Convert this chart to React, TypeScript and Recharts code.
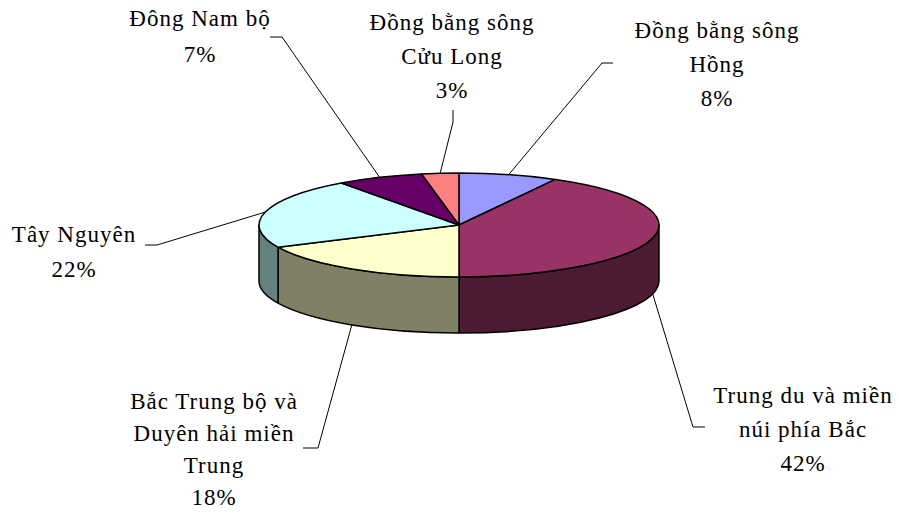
import React from 'react'
import { Cell, Pie, PieChart } from 'recharts'

const NAMES = [
    'Đồng bằng sông\nHồng',
    'Trung du và miền\nnúi phía Bắc',
    'Bắc Trung bộ và\nDuyên hải miền\nTrung',
    'Tây Nguyên',
    'Đông Nam bộ',
    'Đồng bằng sông\nCửu Long',
]
const VALUES = [8, 42, 18, 22, 7, 3]
const COLORS = ['#9999FF', '#993366', '#FFFFCC', '#CCFFFF', '#660066', '#FF8080']

// where each label sits: text centre / first baseline, line gap, then the bend of the leader line
const LABEL_LAYOUT = [
    { x: 717, y: 38, gap: 34, elbow: [602, 63], tick: [613, 63] },
    { x: 803, y: 403, gap: 34, elbow: [693, 427], tick: [705, 427] },
    { x: 214, y: 409, gap: 32, elbow: [318, 448], tick: [303, 448] },
    { x: 74, y: 242, gap: 35, elbow: [157, 245], tick: [145, 245] },
    { x: 200, y: 26, gap: 36, elbow: [282, 37], tick: [270, 37] },
    { x: 452, y: 30, gap: 34, elbow: [453, 122], tick: [453, 110] },
]

const data = NAMES.map((name, i) => ({ name, value: VALUES[i] }))

const RAD = Math.PI / 180
const TILT = 0.26
const DEPTH = 56
const FONT = "'Liberation Serif', 'Times New Roman', Times, serif"

const ellipsePt = (cx: number, cy: number, rx: number, a: number, dy = 0) => ({
    x: cx + rx * Math.cos(a * RAD),
    y: cy - rx * TILT * Math.sin(a * RAD) + dy,
})

const darken = (hex: string, k: number) => {
    const n = parseInt(hex.slice(1), 16)
    const r = Math.round(((n >> 16) & 255) * k)
    const g = Math.round(((n >> 8) & 255) * k)
    const b = Math.round((n & 255) * k)
    return `rgb(${r},${g},${b})`
}

const TopSlice = (props: any) => {
    const { cx, cy, outerRadius, startAngle, endAngle, fill } = props
    const rx = outerRadius
    const ry = rx * TILT
    const p1 = ellipsePt(cx, cy, rx, startAngle)
    const p2 = ellipsePt(cx, cy, rx, endAngle)
    const large = Math.abs(startAngle - endAngle) > 180 ? 1 : 0
    const sweep = startAngle > endAngle ? 1 : 0
    const d = `M${cx},${cy} L${p1.x},${p1.y} A${rx},${ry} 0 ${large} ${sweep} ${p2.x},${p2.y} Z`
    return <path d={d} fill={fill} stroke="#000" strokeWidth={1.5} strokeLinejoin="round" />
}

const SideSlice = (props: any) => {
    const { cx, cy, outerRadius, startAngle, endAngle, fill } = props
    const rx = outerRadius
    const ry = rx * TILT
    const hi = Math.min(Math.max(startAngle, endAngle), 0)
    const lo = Math.max(Math.min(startAngle, endAngle), -180)
    if (hi <= lo) return <g />
    const a = ellipsePt(cx, cy, rx, hi)
    const b = ellipsePt(cx, cy, rx, lo)
    const d =
        `M${a.x},${a.y} A${rx},${ry} 0 0 1 ${b.x},${b.y} ` +
        `L${b.x},${b.y + DEPTH} A${rx},${ry} 0 0 0 ${a.x},${a.y + DEPTH} Z`
    return <path d={d} fill={darken(fill, 0.5)} stroke="#000" strokeWidth={1.5} strokeLinejoin="round" />
}

const renderLabel = (props: any) => {
    const { cx, cy, outerRadius, midAngle, percent, index } = props
    const L = LABEL_LAYOUT[index]
    const front = Math.sin(midAngle * RAD) < 0
    const p = ellipsePt(cx, cy, outerRadius, midAngle, front ? DEPTH : 0)
    const lines = [...NAMES[index].split('\n'), `${Math.round(percent * 100)}%`]
    return (
        <g>
            <polyline
                points={`${p.x},${p.y} ${L.elbow[0]},${L.elbow[1]} ${L.tick[0]},${L.tick[1]}`}
                fill="none"
                stroke="#000"
                strokeWidth={1}
            />
            <text
                x={L.x}
                y={L.y}
                textAnchor="middle"
                fill="#000"
                style={{ fontFamily: FONT, fontSize: 23, letterSpacing: 1 }}
            >
                {lines.map((l, i) => (
                    <tspan key={i} x={L.x} dy={i === 0 ? 0 : L.gap}>{l}</tspan>
                ))}
            </text>
        </g>
    )
}

const App = () => {
    return (
        <div style={{ position: 'absolute', left: 0, top: 0, background: '#fff' }}>
            <PieChart width={899} height={514} margin={{ top: 0, right: 0, bottom: 0, left: 0 }}>
                <Pie
                    data={data}
                    dataKey="value"
                    nameKey="name"
                    cx={459}
                    cy={225}
                    outerRadius={200}
                    startAngle={90}
                    endAngle={-270}
                    isAnimationActive={false}
                    shape={SideSlice}
                >
                    {data.map((entry, index) => (
                        <Cell key={`side-${index}`} fill={COLORS[index]} />
                    ))}
                </Pie>
                <Pie
                    data={data}
                    dataKey="value"
                    nameKey="name"
                    cx={459}
                    cy={225}
                    outerRadius={200}
                    startAngle={90}
                    endAngle={-270}
                    isAnimationActive={false}
                    shape={TopSlice}
                    label={renderLabel}
                    labelLine={false}
                >
                    {data.map((entry, index) => (
                        <Cell key={`top-${index}`} fill={COLORS[index]} />
                    ))}
                </Pie>
            </PieChart>
        </div>
    )
}

export default App
